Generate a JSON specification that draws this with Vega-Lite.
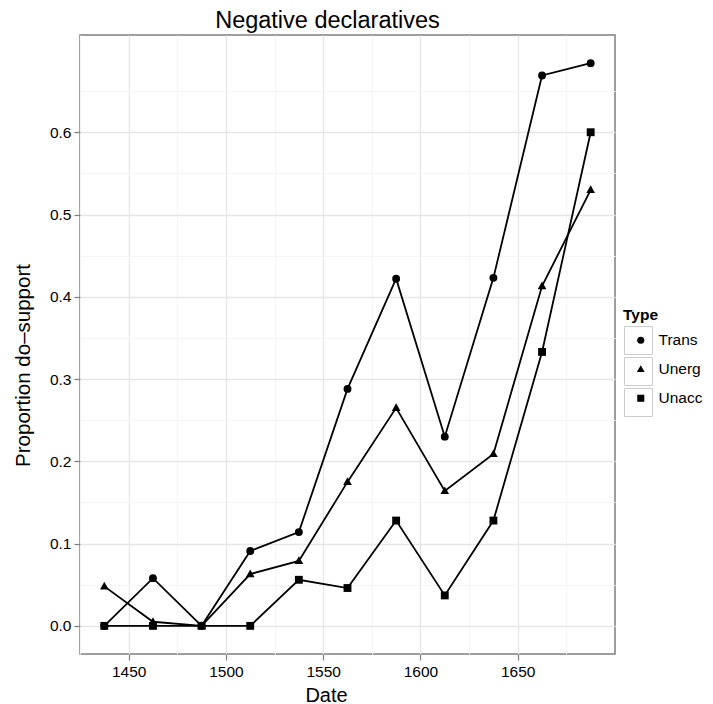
{
  "$schema": "https://vega.github.io/schema/vega-lite/v6.json",
  "autosize": "none",
  "width": 535,
  "height": 619,
  "padding": {"left": 80, "top": 35, "right": 98, "bottom": 50},
  "background": "white",
  "title": {"text": "Negative declaratives", "fontSize": 23.5, "font": "Liberation Sans", "fontWeight": "normal", "color": "black", "anchor": "middle", "dx": -20, "offset": 3},
  "config": {
    "font": "Liberation Sans",
    "view": {"stroke": "#7f7f7f", "strokeWidth": 1.5},
    "axis": {"domain": false, "tickColor": "#7f7f7f", "tickSize": 6, "tickWidth": 1.2, "labelFontSize": 15.5, "labelColor": "black", "labelFont": "Liberation Sans", "titleFontSize": 20, "titleFontWeight": "normal", "titleColor": "black", "titleFont": "Liberation Sans", "gridColor": "#e6e6e6", "gridWidth": 1.3}
  },
  "data": {"values": [
    {"Date": 1437.5, "Type": "Trans", "Proportion": 0.0},
    {"Date": 1462.5, "Type": "Trans", "Proportion": 0.058},
    {"Date": 1487.5, "Type": "Trans", "Proportion": 0.0},
    {"Date": 1512.5, "Type": "Trans", "Proportion": 0.091},
    {"Date": 1537.5, "Type": "Trans", "Proportion": 0.114},
    {"Date": 1562.5, "Type": "Trans", "Proportion": 0.288},
    {"Date": 1587.5, "Type": "Trans", "Proportion": 0.422},
    {"Date": 1612.5, "Type": "Trans", "Proportion": 0.230},
    {"Date": 1637.5, "Type": "Trans", "Proportion": 0.423},
    {"Date": 1662.5, "Type": "Trans", "Proportion": 0.669},
    {"Date": 1687.5, "Type": "Trans", "Proportion": 0.684},
    {"Date": 1437.5, "Type": "Unerg", "Proportion": 0.048},
    {"Date": 1462.5, "Type": "Unerg", "Proportion": 0.005},
    {"Date": 1487.5, "Type": "Unerg", "Proportion": 0.0},
    {"Date": 1512.5, "Type": "Unerg", "Proportion": 0.063},
    {"Date": 1537.5, "Type": "Unerg", "Proportion": 0.079},
    {"Date": 1562.5, "Type": "Unerg", "Proportion": 0.175},
    {"Date": 1587.5, "Type": "Unerg", "Proportion": 0.265},
    {"Date": 1612.5, "Type": "Unerg", "Proportion": 0.164},
    {"Date": 1637.5, "Type": "Unerg", "Proportion": 0.209},
    {"Date": 1662.5, "Type": "Unerg", "Proportion": 0.413},
    {"Date": 1687.5, "Type": "Unerg", "Proportion": 0.530},
    {"Date": 1437.5, "Type": "Unacc", "Proportion": 0.0},
    {"Date": 1462.5, "Type": "Unacc", "Proportion": 0.0},
    {"Date": 1487.5, "Type": "Unacc", "Proportion": 0.0},
    {"Date": 1512.5, "Type": "Unacc", "Proportion": 0.0},
    {"Date": 1537.5, "Type": "Unacc", "Proportion": 0.056},
    {"Date": 1562.5, "Type": "Unacc", "Proportion": 0.046},
    {"Date": 1587.5, "Type": "Unacc", "Proportion": 0.128},
    {"Date": 1612.5, "Type": "Unacc", "Proportion": 0.037},
    {"Date": 1637.5, "Type": "Unacc", "Proportion": 0.128},
    {"Date": 1662.5, "Type": "Unacc", "Proportion": 0.333},
    {"Date": 1687.5, "Type": "Unacc", "Proportion": 0.600}
  ]},
  "layer": [
    {
      "mark": {"type": "point", "opacity": 0},
      "encoding": {
        "x": {"field": "Date", "type": "quantitative", "scale": {"domain": [1425, 1700], "nice": false, "zero": false},
          "axis": {"orient": "bottom", "values": [1425, 1475, 1525, 1575, 1625, 1675], "grid": true, "gridColor": "#f5f5f5", "gridWidth": 1.1, "ticks": false, "labels": false, "title": null}},
        "y": {"field": "Proportion", "type": "quantitative", "scale": {"domain": [-0.0342, 0.7182], "nice": false, "zero": false},
          "axis": {"orient": "left", "values": [0.05, 0.15, 0.25, 0.35, 0.45, 0.55, 0.65], "grid": true, "gridColor": "#f5f5f5", "gridWidth": 1.1, "ticks": false, "labels": false, "title": null}},
        "shape": {"field": "Type", "type": "nominal",
          "scale": {"domain": ["Trans", "Unerg", "Unacc"], "range": ["square", "square", "square"]},
          "legend": {"title": null, "orient": "none", "legendX": 544, "legendY": 291, "labelExpr": "''", "labelOffset": 0, "symbolSize": 784, "symbolOffset": 0, "symbolOpacity": 1, "symbolFillColor": "transparent", "symbolStrokeColor": "#cccccc", "symbolStrokeWidth": 1, "rowPadding": -4, "padding": 0}}
      }
    },
    {
      "mark": {"type": "line", "color": "black", "strokeWidth": 1.8},
      "encoding": {
        "x": {"field": "Date", "type": "quantitative",
          "axis": {"orient": "bottom", "values": [1450, 1500, 1550, 1600, 1650], "format": "d", "grid": true, "labelPadding": 4, "title": "Date", "titleX": 246, "titleY": 47, "titleBaseline": "alphabetic", "titleAlign": "center"}},
        "y": {"field": "Proportion", "type": "quantitative",
          "axis": {"orient": "left", "values": [0, 0.1, 0.2, 0.3, 0.4, 0.5, 0.6], "format": ".1f", "grid": true, "labelPadding": 3, "title": "Proportion do–support", "titleFontSize": 20.5, "titleX": -51, "titleY": 330, "titleAngle": -90, "titleBaseline": "alphabetic", "titleAlign": "center"}},
        "detail": {"field": "Type"}
      }
    },
    {
      "mark": {"type": "point", "filled": true, "color": "black", "opacity": 1, "size": 62},
      "encoding": {
        "x": {"field": "Date", "type": "quantitative", "axis": null},
        "y": {"field": "Proportion", "type": "quantitative", "axis": null},
        "shape": {"field": "Type", "type": "nominal",
          "scale": {"domain": ["Trans", "Unerg", "Unacc"], "range": ["circle", "M0,-1.15L1.1,0.8L-1.1,0.8Z", "square"]},
          "legend": {"title": "Type", "orient": "none", "legendX": 543, "legendY": 273, "titleFontSize": 15.5, "titleFontWeight": "bold", "titleColor": "black", "titlePadding": 9, "labelFontSize": 15.5, "labelColor": "black", "symbolFillColor": "black", "symbolStrokeColor": "black", "symbolOpacity": 1, "symbolSize": 50, "symbolOffset": 10, "labelOffset": 10, "rowPadding": 12, "padding": 0}}
      }
    }
  ],
  "resolve": {"axis": {"x": "independent", "y": "independent"}, "scale": {"shape": "independent"}, "legend": {"shape": "independent"}}
}
